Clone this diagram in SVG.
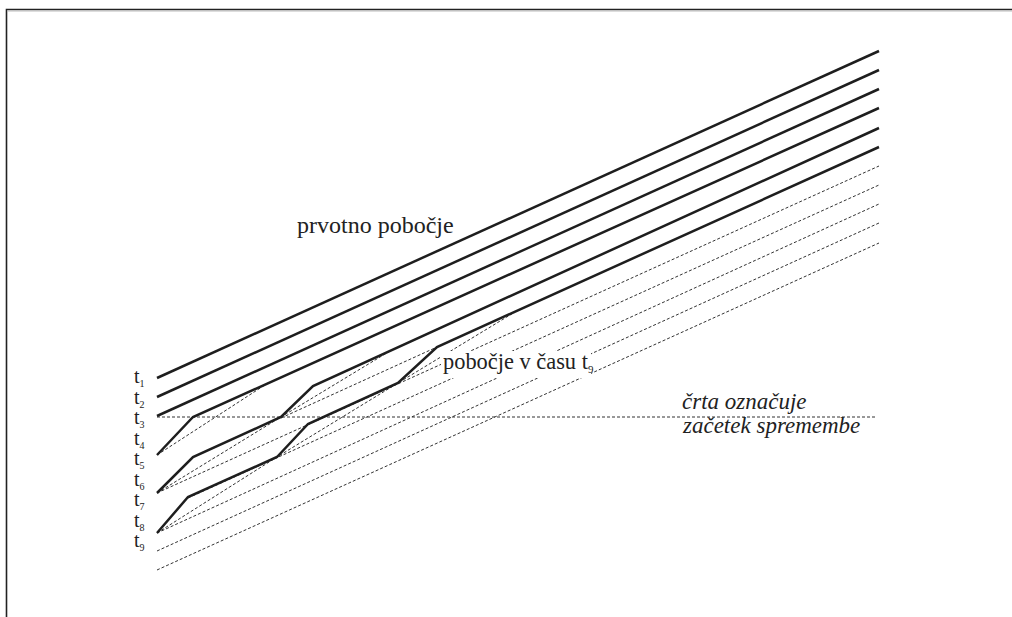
<svg xmlns="http://www.w3.org/2000/svg" width="1012" height="617" viewBox="0 0 1012 617">
<style>
.frame{fill:none;stroke:#222;stroke-width:1.6}
.sol{fill:none;stroke:#1e1e1e;stroke-width:2.5;stroke-linejoin:miter}
.dash{fill:none;stroke:#333;stroke-width:1;stroke-dasharray:3 2}
.lbl{font-family:"Liberation Serif",serif;fill:#222}
.it{font-family:"Liberation Serif",serif;font-style:italic;fill:#222}
</style>
<rect width="1012" height="617" fill="#fff"/>
<g id="frame">
<path class="frame" d="M6.5 617V9.5H1012"/>
<path d="M7 11H1012" stroke="#bbb" stroke-width="1" fill="none"/>
</g>
<g id="connectors">
<path class="dash" d="M157 417H876"/>
<path class="dash" d="M157 455L268 383"/>
<path class="dash" d="M157 493L281 417L390 351"/>
<path class="dash" d="M157 533L277 457L398 383L515 312"/>
<path class="dash" d="M157 493L879 166"/>
<path class="dash" d="M188 498L879 185"/>
<path class="dash" d="M157 533L879 204"/>
<path class="dash" d="M157 551L879 223"/>
<path class="dash" d="M157 570L879 243"/>
<path class="dash" d="M281 418L437 347"/>
<path class="sol" d="M157 378L879 51"/>
<path class="sol" d="M157 397L879 70"/>
<path class="sol" d="M157 416L879 89"/>
<path class="sol" d="M157 455L193 417L879 108"/>
<path class="sol" d="M157 493L193 457L281 417L313 386L879 128"/>
<path class="sol" d="M157 533L188 497L277 457L308 424L398 383L437 347L879 147"/>
</g>
<g id="labels">
<text class="lbl" x="297" y="233" font-size="24">prvotno pobočje</text>
<rect x="441" y="351" width="150" height="27" fill="#fff"/>
<text class="lbl" x="443" y="369" font-size="22.4">pobočje v času t<tspan font-size="11" dy="4">9</tspan></text>
<text class="it" x="682" y="409" font-size="23">črta označuje</text>
<text class="it" x="683" y="433" font-size="23">začetek spremembe</text>
</g>
<g id="time-labels" class="lbl" font-size="20">
<text x="134" y="383">t<tspan font-size="10" dy="4">1</tspan></text>
<text x="134" y="403.5">t<tspan font-size="10" dy="4">2</tspan></text>
<text x="134" y="424">t<tspan font-size="10" dy="4">3</tspan></text>
<text x="134" y="444.5">t<tspan font-size="10" dy="4">4</tspan></text>
<text x="134" y="465">t<tspan font-size="10" dy="4">5</tspan></text>
<text x="134" y="485.5">t<tspan font-size="10" dy="4">6</tspan></text>
<text x="134" y="506">t<tspan font-size="10" dy="4">7</tspan></text>
<text x="134" y="526.5">t<tspan font-size="10" dy="4">8</tspan></text>
<text x="134" y="547">t<tspan font-size="10" dy="4">9</tspan></text>
</g>
</svg>
